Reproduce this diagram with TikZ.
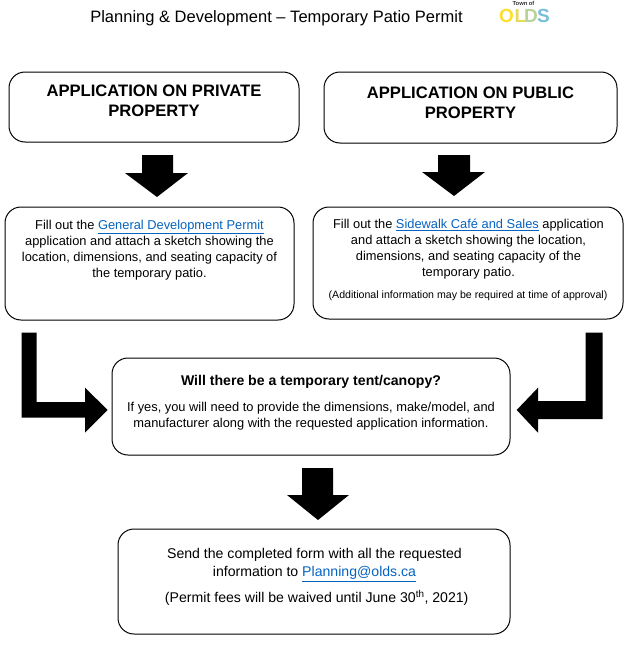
\documentclass[tikz,border=0pt]{standalone}
\usepackage{fontspec}
\setmainfont{Liberation Sans}
\definecolor{linkblue}{HTML}{0563C1}
\definecolor{logoa}{HTML}{FBDF2B}
\definecolor{logob}{HTML}{E6DA5E}
\definecolor{logoc}{HTML}{B8D29A}
\definecolor{logod}{HTML}{78BFD8}
\newcommand{\lnk}[1]{\textcolor{linkblue}{\underline{#1}}}
\tikzset{
  box/.style={draw=black,line width=1pt,rounded corners=16pt,fill=white},
  blockarrow/.style={fill=black,draw=none},
  head/.style={font=\fontsize{16.6}{20}\selectfont\bfseries,align=center,inner sep=0pt},
  body/.style={font=\fontsize{12.85}{16.1}\selectfont,align=center,inner sep=0pt},
  bodylarge/.style={font=\fontsize{14.1}{18}\selectfont,align=center,inner sep=0pt},
  small/.style={font=\fontsize{10.6}{12}\selectfont,align=center,inner sep=0pt},
  logo/.style={font=\fontsize{19}{19}\selectfont\bfseries,inner sep=0pt,anchor=base west},
}
\begin{document}
\begin{tikzpicture}[x=1pt,y=-1pt]
\useasboundingbox (0,0) rectangle (635,653);
\node[inner sep=0pt,font=\fontsize{16.5}{18}\selectfont] (title) at (276.5,18) {Planning \& Development – Temporary Patio Permit};
\node[inner sep=0pt,font=\fontsize{5.8}{7}\selectfont\bfseries,text=black!80] (town) at (523.5,3) {Town of};
\node[logo,text=logoa] (lo) at (499,22) {O};
\node[logo,text=logob] (ll) at (514.5,22) {L};
\node[logo,text=logoc] (ld) at (524,22) {D};
\node[logo,text=logod] (ls) at (537,22) {S};

\draw[box] (9,72) rectangle (299,142);
\draw[box] (324,72) rectangle (617,143);
\draw[box] (5,207) rectangle (294,320);
\draw[box] (313,207) rectangle (623,319);
\draw[box] (112,358) rectangle (510,455);
\draw[box] (118,529) rectangle (510,634);

\node[head] (t1) at (154,101) {APPLICATION ON PRIVATE\\PROPERTY};
\node[head] (t2) at (470.5,102.5) {APPLICATION ON PUBLIC\\PROPERTY};
\node[body] (t3) at (149.5,250) {Fill out the \lnk{General Development Permit}\\application and attach a sketch showing the\\location, dimensions, and seating capacity of\\the temporary patio.};
\node[body] (t4) at (468.5,249) {Fill out the \lnk{Sidewalk Café and Sales} application\\and attach a sketch showing the location,\\dimensions, and seating capacity of the\\temporary patio.};
\node[small] (t4b) at (468,296) {(Additional information may be required at time of approval)};
\node[body,font=\fontsize{14.1}{16}\selectfont\bfseries] (t5) at (311,382) {Will there be a temporary tent/canopy?};
\node[body] (t5b) at (311,416.5) {If yes, you will need to provide the dimensions, make/model, and\\manufacturer along with the requested application information.};
\node[bodylarge] (t6) at (314.5,565) {Send the completed form with all the requested\\information to \lnk{Planning@olds.ca}};
\node[bodylarge] (t6b) at (316.7,598) {(Permit fees will be waived until June 30\textsuperscript{th}, 2021)};

\fill[blockarrow] (142,155) -- (173,155) -- (173,173) -- (188,173) -- (157,197) -- (125,173) -- (142,173) -- cycle;
\fill[blockarrow] (438,155) -- (470,155) -- (470,172) -- (485,172) -- (454,196) -- (422,172) -- (438,172) -- cycle;
\fill[blockarrow] (302,468) -- (333,468) -- (333,495) -- (349,495) -- (318,520) -- (287,495) -- (302,495) -- cycle;
\fill[blockarrow] (21.7,332.7) -- (36.7,332.7) -- (36.7,402) -- (85,402) -- (85,387.7) -- (107.7,410) -- (85,432.7) -- (85,417.7) -- (21.7,417.7) -- cycle;
\fill[blockarrow] (602.7,332.7) -- (585.7,332.7) -- (585.7,401) -- (538,401) -- (538,387.7) -- (516.7,410) -- (538,432.7) -- (538,419) -- (602.7,419) -- cycle;
\end{tikzpicture}
\end{document}
